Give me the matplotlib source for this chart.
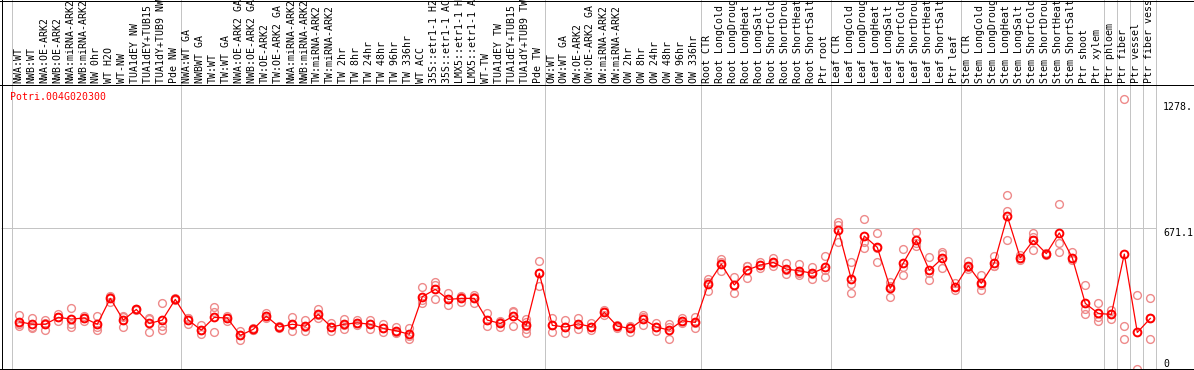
import matplotlib
matplotlib.use("Agg")
import matplotlib.pyplot as plt
from matplotlib.lines import Line2D
import matplotlib.transforms as mtransforms

plt.rcParams['font.family'] = ['DejaVu Sans Mono']

# gene shown
gene = "Potri.004G020300"

# sample labels (left to right)
labels = [
    "NWA:WT", "NWB:WT", "NWA:OE-ARK2", "NWB:OE-ARK2", "NWA:miRNA-ARK2", "NWB:miRNA-ARK2",
    "NW 0hr", "WT H2O", "WT-NW", "TUA1dEY NW", "TUA1dEY+TUB15 NW", "TUA1dY+TUB9 NW", "Pde NW",
    "NWA:WT GA", "NWBWT GA", "TW:WT", "TW:WT GA", "NWA:OE-ARK2 GA", "NWB:OE-ARK2 GA",
    "TW:OE-ARK2", "TW:OE-ARK2 GA", "NWA:miRNA-ARK2", "NWB:miRNA-ARK2", "TW:miRNA-ARK2",
    "TW:miRNA-ARK2", "TW 2hr", "TW 8hr", "TW 24hr", "TW 48hr", "TW 96hr", "TW 336hr",
    "WT ACC", "35S::etr1-1 H2O", "35S::etr1-1 ACC", "LMX5::etr1-1 H2O", "LMX5::etr1-1 ACC",
    "WT-TW", "TUA1dEY TW", "TUA1dEY+TUB15 TW", "TUA1dY+TUB9 TW", "Pde TW",
    "OW:WT", "OW:WT GA", "OW:OE-ARK2", "OW:OE-ARK2 GA", "OW:miRNA-ARK2", "OW:miRNA-ARK2",
    "OW 2hr", "OW 8hr", "OW 24hr", "OW 48hr", "OW 96hr", "OW 336hr",
    "Root CTR", "Root LongCold", "Root LongDrought", "Root LongHeat", "Root LongSalt",
    "Root ShortCold", "Root ShortDrought", "Root ShortHeat", "Root ShortSalt", "Ptr root",
    "Leaf CTR", "Leaf LongCold", "Leaf LongDrought", "Leaf LongHeat", "Leaf LongSalt",
    "Leaf ShortCold", "Leaf ShortDrought", "Leaf ShortHeat", "Leaf ShortSalt", "Ptr leaf",
    "Stem CTR", "Stem LongCold", "Stem LongDrought", "Stem LongHeat", "Stem LongSalt",
    "Stem ShortCold", "Stem ShortDrought", "Stem ShortHeat", "Stem ShortSalt", "Ptr shoot",
    "Ptr xylem", "Ptr phloem", "Ptr fiber", "Ptr vessel", "Ptr fiber vessel",
]

# mean expression per sample
means = [
    224, 212, 212, 245, 237, 242, 212, 336, 232, 283, 216, 232, 331,
    232, 184, 245, 242, 159, 188, 251, 199, 212, 203, 259, 199, 212, 219, 212,
    192, 181, 164, 344, 379, 331, 336, 336, 232, 216, 251, 207, 456,
    207, 199, 214, 200, 269, 203, 192, 237, 199, 184, 229, 221,
    405, 500, 400, 472, 495, 508, 476, 468, 456, 484,
    663, 427, 634, 580, 384, 505, 614, 470, 528, 392,
    492, 408, 506, 729, 530, 614, 550, 649, 530, 312, 264,
    259, 548, 173, 240,
]

# individual replicates per sample
reps = [
    [256, 212, 203], [240, 192, 200], [232, 184, 218], [259, 229, 247], [288, 213, 200],
    [253, 229, 242], [251, 200, 184], [341, 320, 347], [248, 197, 251], [283, 280, 286],
    [240, 173, 235], [312, 203, 185], [331, 326, 336], [240, 213, 242], [208, 164, 184],
    [293, 272, 173], [242, 229, 251], [181, 135, 160], [192, 184, 187], [264, 240, 251],
    [199, 203, 194], [245, 180, 208], [232, 180, 200], [283, 240, 256], [219, 180, 199],
    [236, 189, 208], [232, 208, 218], [232, 189, 213], [212, 173, 194], [200, 168, 175],
    [195, 140, 156], [389, 315, 328], [416, 400, 331], [360, 304, 331], [347, 320, 342],
    [352, 312, 342], [264, 203, 232], [229, 197, 223], [272, 205, 275],
    [236, 222, 205, 188, 172], [515, 395, 458],
    [240, 173, 208], [232, 168, 199], [243, 188, 213], [216, 184, 199], [280, 269, 256],
    [208, 195, 203], [205, 173, 199], [256, 208, 247], [219, 180, 199], [212, 143, 199],
    [240, 219, 227], [248, 195, 219],
    [428, 371, 414], [524, 468, 510], [437, 363, 400], [492, 432, 491], [511, 480, 495],
    [528, 492, 505], [504, 452, 472], [499, 448, 457], [487, 427, 452], [540, 439, 472],
    [700, 687, 604], [508, 405, 360], [716, 604, 575], [647, 511, 577], [416, 344, 395],
    [571, 448, 487], [652, 588, 601], [534, 422, 459], [559, 480, 548], [408, 376, 390],
    [515, 476, 486], [448, 376, 400], [539, 492, 491], [829, 754, 614], [543, 519, 529],
    [647, 631, 566], [554, 543, 551], [786, 599, 559], [556, 519, 529], [400, 283, 259],
    [315, 248, 227], [280, 259, 238], [1290, 205, 140], [350, 0], [336, 242, 140],
]

# last sample index of each group (separators drawn after these)
group_ends = [-1, 12, 40, 52, 62, 72, 83, 84, 85, 86, 87]

# right-hand axis labels
ytick_vals = [1278, 671.1, 0]
ytick_text = ["1278.", "671.1", "0"]

W, H = 1194, 370
fig = plt.figure(figsize=(W / 100, H / 100), dpi=100)

# plot area in pixels: left 1, right 1194, top 85, bottom 369
ax = fig.add_axes([1 / W, (H - 369) / H, (W - 1) / W, (369 - 85) / H])
x0, step = 19.3, 13.0
ax.set_xlim((1 - x0) / step, (W - x0) / step)
ax.set_ylim(-2, 1357)
ax.axis("off")

gray = "#c4c4c4"
px = 0.72
ext = 369 / (369 - 85)

for g in group_ends:
    ax.axvline(g + 0.4, ymin=0, ymax=ext, color=gray, lw=px, clip_on=False, zorder=1)

ax.hlines(671.1, (1 - x0) / step, 87.4, color=gray, lw=px, zorder=1)

xs = list(range(len(means)))
for i, r in enumerate(reps):
    ax.plot([i] * len(r), r, "o", mfc="none", mec="#ee8a8a", ms=5.6, mew=1.0, zorder=2)
ax.plot(xs, means, color="red", lw=0.9, marker="o", mfc="none", mec="red",
        ms=5.6, mew=1.4, zorder=3)

# rotated sample labels above the plot
trans = mtransforms.blended_transform_factory(ax.transData, ax.transAxes)
for i, lab in enumerate(labels):
    ax.text(i - 0.1, 1 + 2 / 284, lab, rotation=90, ha="center", va="bottom",
            fontsize=7.1, transform=trans, clip_on=False)

# value labels on the right
for v, t in zip(ytick_vals, ytick_text):
    ax.text(87.98, v, t, ha="left", va="bottom" if v == 0 else "top", fontsize=7.1)

fig.text(10 / W, 1 - 97 / H, gene, color="red", ha="left", va="center", fontsize=7.1)

# black frame lines
def hline(y, x1=0, x2=W):
    fig.add_artist(Line2D([x1 / W, x2 / W], [1 - y / H, 1 - y / H],
                          transform=fig.transFigure, color="black", lw=px))

def vline(x, y1=0, y2=369):
    fig.add_artist(Line2D([x / W, x / W], [1 - y1 / H, 1 - y2 / H],
                          transform=fig.transFigure, color="black", lw=px))

hline(0.5)
hline(85)
hline(369)
vline(1.5)

fig.savefig("out.png", dpi=100, facecolor="white")
